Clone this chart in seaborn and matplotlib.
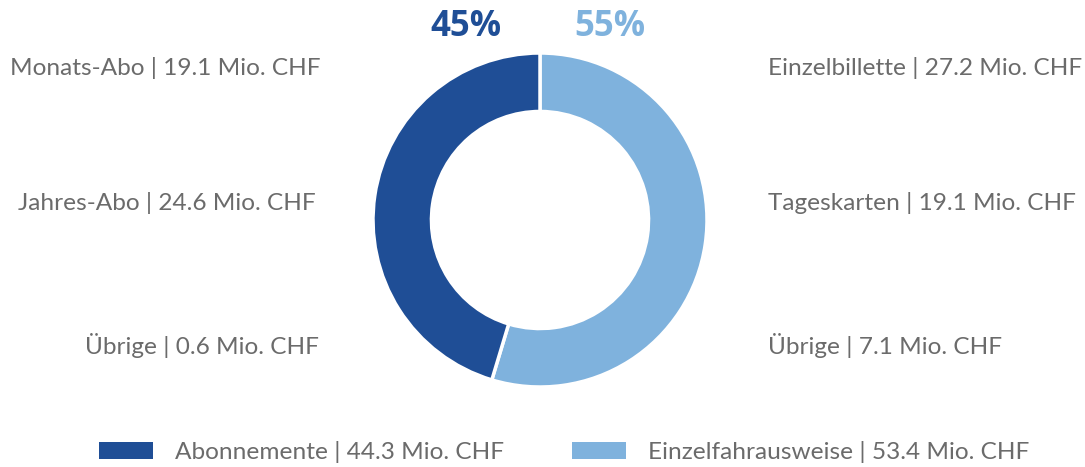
import matplotlib
matplotlib.use('Agg')
import matplotlib.pyplot as plt
import seaborn as sns

# data
groups = ['Einzelfahrausweise', 'Abonnemente']
group_values = [53.4, 44.3]          # Mio. CHF
left_items = ['Monats-Abo', 'Jahres-Abo', 'Übrige']
left_values = [19.1, 24.6, 0.6]
right_items = ['Einzelbillette', 'Tageskarten', 'Übrige']
right_values = [27.2, 19.1, 7.1]

DARK = '#1F4E96'
LIGHT = '#7FB2DD'
GREY = '#6B6B6B'
FS = 17.6

sns.set_theme(style='white')
plt.rcParams['font.family'] = ['Lato', 'DejaVu Sans']

W, H = 1085, 467
fig = plt.figure(figsize=(W / 100, H / 100), dpi=100)
ax = fig.add_axes([0, 0, 1, 1])

total = sum(group_values)
wedges, _ = ax.pie(group_values, colors=[LIGHT, DARK], startangle=90, counterclock=False,
                   center=(540, H - 220), radius=167, frame=True,
                   wedgeprops=dict(width=167 * 0.35, edgecolor='white', linewidth=2.5))
ax.set_xlim(0, W)
ax.set_ylim(0, H)
ax.set_aspect('equal')
ax.axis('off')

# percentage headers
pct = [round(v / total * 100) for v in group_values]
ax.text(466, H - 27, f'{pct[1]}%', color=DARK, fontsize=25, fontweight='bold',
        family=['Open Sans', 'DejaVu Sans'], ha='center', va='center')
ax.text(610, H - 27, f'{pct[0]}%', color=LIGHT, fontsize=25, fontweight='bold',
        family=['Open Sans', 'DejaVu Sans'], ha='center', va='center')

# side labels
left_x = [10, 18, 85]
rows_y = [68, 203, 345]
for name, val, x, y in zip(left_items, left_values, left_x, rows_y):
    ax.text(x, H - y, f'{name} | {val:.1f} Mio. CHF', color=GREY, fontsize=FS, ha='left', va='center')
for name, val, y in zip(right_items, right_values, rows_y):
    ax.text(768, H - y, f'{name} | {val:.1f} Mio. CHF', color=GREY, fontsize=FS, ha='left', va='center')

# legend
handles = [wedges[1], wedges[0]]
labels = [f'{groups[1]} | {group_values[1]:.1f} Mio. CHF', f'{groups[0]} | {group_values[0]:.1f} Mio. CHF']
leg = fig.legend(handles, labels, loc='center left', bbox_to_anchor=(99 / W, 15 / H), ncol=2,
                 frameon=False, fontsize=FS, handlelength=2.2, handleheight=0.74,
                 handletextpad=0.9, columnspacing=2.8, borderpad=0, borderaxespad=0)
for t in leg.get_texts():
    t.set_color(GREY)
for h in leg.legend_handles:
    h.set_edgecolor('none')

fig.savefig('out.png', dpi=100)
